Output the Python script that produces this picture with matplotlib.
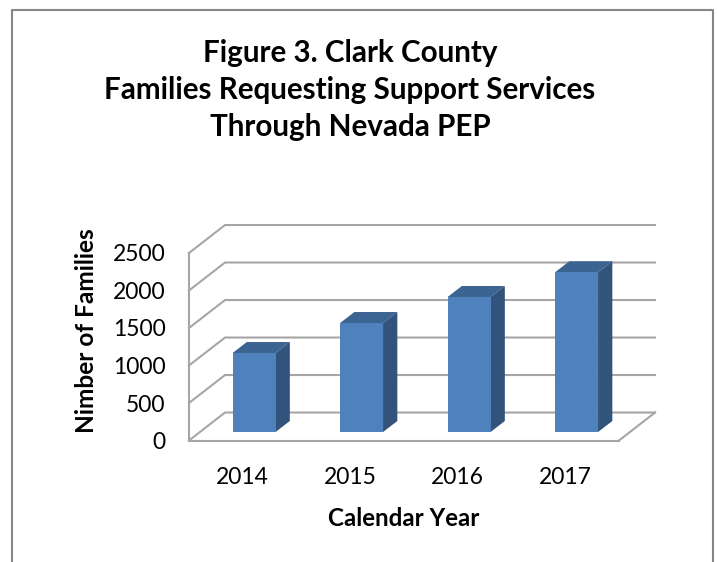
#!/usr/bin/env python3
import matplotlib
matplotlib.use("Agg")
import matplotlib.pyplot as plt
from matplotlib.patches import Polygon

years = ["2014", "2015", "2016", "2017"]
families = [1053, 1453, 1800, 2130]
yticks = [0, 500, 1000, 1500, 2000, 2500]

W, H = 717, 562
plt.rcParams['font.family'] = ['Lato', 'DejaVu Sans']

fig = plt.figure(figsize=(W / 100, H / 100), dpi=100)
# front face of the fake 3d box
ax = fig.add_axes([189 / W, 1 - 440.5 / H, 430 / W, 187.5 / H])
ax.set_xlim(-0.5, 3.5)
ax.set_ylim(0, 2500)
ax.patch.set_alpha(0)

# depth of the box and of the bars, in data units
box_dx, box_dy = 0.335, 373
bar_dx, bar_dy = 0.133, 147
off_x, off_y = 0.105, 113
bar_w = 0.4
grid = '#a6a6a6'

for s in ['top', 'right']:
    ax.spines[s].set_visible(False)
for s in ['left', 'bottom']:
    ax.spines[s].set_color(grid)
    ax.spines[s].set_linewidth(1.5)

for v in yticks:
    ax.plot([-0.5, -0.5 + box_dx, 3.5 + box_dx], [v, v + box_dy, v + box_dy],
            color=grid, lw=1.5, clip_on=False, zorder=1, solid_joinstyle='miter')
ax.plot([3.5, 3.5 + box_dx], [0, box_dy], color=grid, lw=1.5, clip_on=False, zorder=1)

for i, v in enumerate(families):
    x0 = i + off_x - bar_w / 2
    x1 = x0 + bar_w
    y0 = off_y
    y1 = off_y + v
    ax.add_patch(Polygon([(x0, y1), (x1, y1), (x1 + bar_dx, y1 + bar_dy), (x0 + bar_dx, y1 + bar_dy)],
                         fc='#3c6492', ec='none', clip_on=False, zorder=3))
    ax.add_patch(Polygon([(x1, y0), (x1 + bar_dx, y0 + bar_dy), (x1 + bar_dx, y1 + bar_dy), (x1, y1)],
                         fc='#32547c', ec='none', clip_on=False, zorder=3))
    ax.bar(i + off_x, v, bottom=off_y, width=bar_w, color='#4f81bd', clip_on=False, zorder=4)

ax.set_xticks(range(len(years)))
ax.set_xticklabels(years)
ax.set_yticks(yticks)
ax.tick_params(axis='x', length=0, pad=19, labelsize=16.5)
ax.tick_params(axis='y', length=0, pad=17, labelsize=16.5)

ax.set_xlabel('Calendar Year', fontsize=17.4, fontweight='bold', labelpad=14)
fig.text(86 / W, 1 - 331 / H, 'Nimber of Families', fontsize=17.6, fontweight='bold',
         rotation=90, ha='center', va='center')

fig.text(350 / W, 1 - 90 / H,
         'Figure 3. Clark County\nFamilies Requesting Support Services\nThrough Nevada PEP',
         fontsize=21.3, fontweight='bold', ha='center', va='center', linespacing=1.37)

# chart frame
fig.add_artist(plt.Line2D([12 / W, 12 / W, 712.5 / W, 712.5 / W],
                          [0, 1 - 9.5 / H, 1 - 9.5 / H, 0], color='#868686', lw=1.5))

fig.savefig("out.png", dpi=100)
